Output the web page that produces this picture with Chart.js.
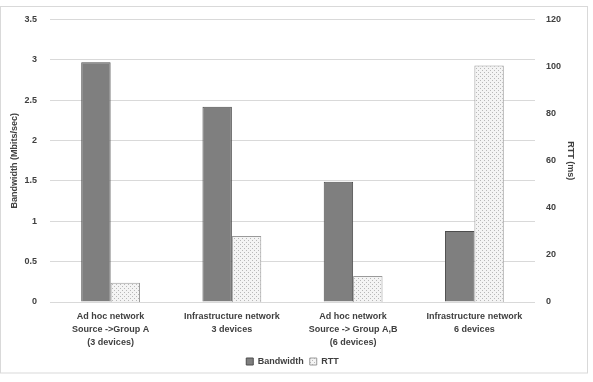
<!DOCTYPE html>
<html>
<head>
<meta charset="utf-8">
<script src="https://cdn.jsdelivr.net/npm/chart.js@4/dist/chart.umd.min.js"></script>
<style>
  html, body { margin: 0; padding: 0; background: #fff; }
  #wrap { width: 593px; height: 382px; position: relative; }
</style>
</head>
<body>
<div id="wrap"><canvas id="chart"></canvas></div>
<script>
var categories = [
  ["Ad hoc network", "Source ->Group A", "(3 devices)"],
  ["Infrastructure network", "3 devices"],
  ["Ad hoc network", "Source -> Group A,B", "(6 devices)"],
  ["Infrastructure network", "6 devices"]
];
var bandwidth = [2.97, 2.42, 1.49, 0.88];
var rtt = [8.2, 28, 11, 100.5];
var leftTicks = [0, 0.5, 1, 1.5, 2, 2.5, 3, 3.5];
var rightTicks = [0, 20, 40, 60, 80, 100, 120];

function dotPattern() {
  var c = document.createElement('canvas');
  c.width = 4; c.height = 4;
  var g = c.getContext('2d');
  g.fillStyle = '#f4f4f4';
  g.fillRect(0, 0, 4, 4);
  g.fillStyle = '#b8b8b8';
  g.fillRect(0, 0, 1, 1);
  g.fillRect(2, 2, 1, 1);
  return g.createPattern(c, 'repeat');
}

var frame = {
  id: 'frame',
  afterDraw: function(chart) {
    var ctx = chart.ctx;
    ctx.save();
    ctx.strokeStyle = '#d9d9d9';
    ctx.lineWidth = 1;
    ctx.strokeRect(0.5, 6.5, 587, 366.5);
    ctx.restore();
  }
};

var tickFont = { family: 'Liberation Sans', size: 9, weight: 'bold', lineHeight: 1.45 };
var titleFont = { family: 'Liberation Sans', size: 9, weight: 'bold' };

new Chart(document.getElementById('chart'), {
  type: 'bar',
  data: {
    labels: categories,
    datasets: [
      {
        label: 'Bandwidth',
        data: bandwidth,
        yAxisID: 'y',
        backgroundColor: '#7f7f7f',
        borderColor: '#4d4d4d',
        borderWidth: 1
      },
      {
        label: 'RTT',
        data: rtt,
        yAxisID: 'y1',
        backgroundColor: dotPattern(),
        borderColor: '#9a9a9a',
        borderWidth: 1
      }
    ]
  },
  options: {
    responsive: true,
    maintainAspectRatio: false,
    animation: false,
    datasets: { bar: { barPercentage: 1, categoryPercentage: 0.485 } },
    layout: { padding: { top: 14, bottom: 6, left: 9, right: 17 } },
    plugins: {
      legend: {
        position: 'bottom',
        labels: {
          boxWidth: 7, boxHeight: 7, padding: 6,
          color: '#404040',
          font: { family: 'Liberation Sans', size: 9, weight: 'bold' }
        }
      },
      tooltip: { enabled: false }
    },
    scales: {
      x: {
        grid: { display: false, drawTicks: false },
        border: { display: false },
        ticks: { color: '#404040', font: tickFont, maxRotation: 0, autoSkip: false, padding: 8 },
        afterFit: function(s) { s.height = 49; }
      },
      y: {
        position: 'left',
        min: 0, max: 3.5,
        afterBuildTicks: function(s) { s.ticks = leftTicks.map(function(v) { return { value: v }; }); },
        grid: { color: '#d9d9d9', drawTicks: false },
        border: { display: false },
        ticks: { color: '#404040', font: tickFont, padding: 13, callback: function(v) { return String(v); } },
        title: { display: true, text: 'Bandwidth (Mbits/sec)', color: '#404040', font: titleFont, padding: 0 },
        afterFit: function(s) { s.width = 41; }
      },
      y1: {
        position: 'right',
        min: 0, max: 120,
        afterBuildTicks: function(s) { s.ticks = rightTicks.map(function(v) { return { value: v }; }); },
        grid: { display: false, drawTicks: false },
        border: { display: false },
        ticks: { color: '#404040', font: tickFont, padding: 11 },
        title: { display: true, text: 'RTT (ms)', color: '#404040', font: titleFont, padding: 0 },
        afterFit: function(s) { s.width = 41; }
      }
    }
  },
  plugins: [frame]
});
</script>
</body>
</html>
